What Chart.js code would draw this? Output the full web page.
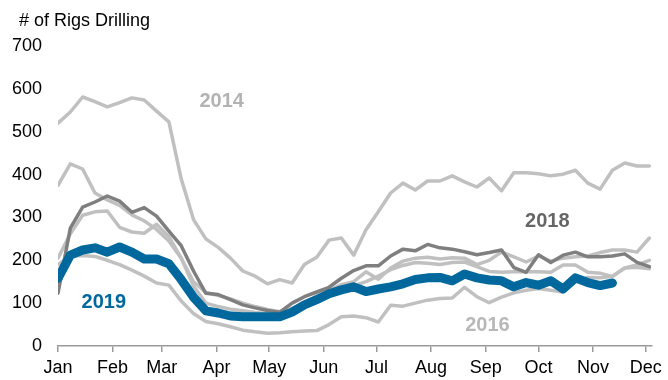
<!DOCTYPE html>
<html>
<head>
<meta charset="utf-8">
<title>Rigs Drilling</title>
<script src="https://cdn.jsdelivr.net/npm/chart.js@4.4.1/dist/chart.umd.min.js"></script>
<style>
    html, body { margin: 0; padding: 0; background: #fff; }
    #wrap { width: 668px; height: 380px; }
</style>
</head>
<body>
<div id="wrap"><canvas id="rigChart" width="668" height="380"></canvas></div>
<script>
var monthNames = ["Jan", "Feb", "Mar", "Apr", "May", "Jun", "Jul", "Aug", "Sep", "Oct", "Nov", "Dec"];
var monthStartDays = [0, 31, 59, 90, 120, 151, 181, 212, 243, 273, 304, 334];
var yTickValues = [0, 100, 200, 300, 400, 500, 600, 700];

// weekly rig counts, one value per week from the first week of January
var rigs2014 = [520, 546, 581, 570, 558, 568, 579, 574, 548, 523,
                390, 295, 250, 230, 205, 175, 163, 145, 155, 147,
                190, 207, 247, 252, 212, 271, 313, 357, 380, 364,
                385, 385, 397, 383, 371, 392, 362, 404, 404, 402,
                397, 401, 410, 380, 366, 410, 427, 420, 420];
var rigs2015 = [375, 425, 413, 357, 341, 328, 306, 292, 272, 245,
                205, 150, 125, 118, 110, 100, 92, 85, 80, 88,
                100, 117, 130, 143, 150, 173, 156, 182, 198, 205,
                207, 203, 206, 205, 190, 200, 219, 208, 196, 210,
                198, 205, 208, 210, 218, 224, 224, 219, 252];
var rigs2016 = [190, 210, 211, 209, 200, 190, 177, 163, 147, 142,
                105, 76, 57, 52, 45, 37, 33, 30, 31, 33,
                35, 36, 50, 68, 70, 66, 56, 95, 93, 100,
                107, 111, 112, 137, 115, 101, 114, 124, 130, 134,
                130, 126, 150, 160, 159, 163, 182, 189, 200];
var rigs2017 = [205, 262, 305, 313, 315, 277, 266, 263, 284, 255,
                205, 140, 100, 92, 86, 82, 78, 76, 75, 82,
                95, 108, 122, 133, 140, 150, 163, 178, 188, 195,
                193, 190, 195, 196, 185, 174, 172, 173, 173, 173,
                172, 189, 189, 172, 170, 162, 182, 184, 180];
var rigs2018 = [123, 275, 324, 336, 350, 338, 312, 323, 303, 268,
                234, 175, 123, 120, 108, 96, 89, 83, 79, 100,
                115, 126, 137, 158, 176, 187, 187, 210, 226, 222,
                237, 229, 226, 220, 213, 218, 224, 183, 172, 213,
                195, 212, 219, 208, 208, 210, 215, 195, 185];
var rigs2019 = [158, 212, 224, 229, 219, 231, 219, 203, 203, 192,
                155, 114, 82, 77, 70, 68, 68, 68, 68, 79,
                96, 108, 122, 131, 138, 127, 133, 138, 145, 155,
                159, 160, 152, 168, 159, 154, 152, 138, 148, 142,
                152, 133, 159, 148, 141, 147];

var lightGrey = "#c0c0c0";
var darkGrey = "#7f7f7f";
var blue = "#00689c";
var fontFamily = "'Liberation Sans', Arial, Helvetica, sans-serif";

// year names written next to their lines (day of year, rig count)
var yearLabels = [
    { text: "2014", day: 93, value: 570, color: "#b3b3b3" },
    { text: "2018", day: 278, value: 291, color: "#666666" },
    { text: "2016", day: 244, value: 47, color: "#b8b8b8" },
    { text: "2019", day: 26, value: 101, color: blue }
];

function toPoints(values) {
    return values.map(function (v, i) {
        return { x: i * 7, y: v };
    });
}

function lineSet(label, values, color, width) {
    return {
        label: label,
        data: toPoints(values),
        borderColor: color,
        backgroundColor: color,
        borderWidth: width,
        pointRadius: 0,
        tension: 0,
        fill: false,
        borderJoinStyle: "round",
        borderCapStyle: "round"
    };
}

var labelPlugin = {
    id: "rigLabels",
    afterDatasetsDraw: function (chart) {
        var ctx = chart.ctx;
        var xs = chart.scales.x;
        var ys = chart.scales.y;
        ctx.save();
        ctx.fillStyle = "#000";
        ctx.font = "18px " + fontFamily;
        ctx.textAlign = "left";
        ctx.textBaseline = "alphabetic";
        ctx.fillText("# of Rigs Drilling", 19, 26);

        ctx.font = "bold 20px " + fontFamily;
        ctx.textAlign = "center";
        ctx.textBaseline = "middle";
        yearLabels.forEach(function (l) {
            ctx.fillStyle = l.color;
            ctx.fillText(l.text, xs.getPixelForValue(l.day), ys.getPixelForValue(l.value));
        });
        ctx.restore();
    }
};

// first dataset is drawn on top
var chart = new Chart("rigChart", {
    type: "line",
    data: {
        datasets: [
            lineSet("2019", rigs2019, blue, 9),
            lineSet("2018", rigs2018, darkGrey, 3.5),
            lineSet("2017", rigs2017, lightGrey, 3.5),
            lineSet("2016", rigs2016, lightGrey, 3.5),
            lineSet("2015", rigs2015, lightGrey, 3.5),
            lineSet("2014", rigs2014, lightGrey, 3.5)
        ]
    },
    options: {
        responsive: false,
        animation: false,
        events: [],
        layout: { padding: { top: 46, right: 16, bottom: 0, left: 0 } },
        plugins: {
            legend: { display: false },
            tooltip: { enabled: false },
            title: { display: false }
        },
        scales: {
            x: {
                type: "linear",
                min: 0,
                max: 337.5,
                afterBuildTicks: function (axis) {
                    axis.ticks = monthStartDays.map(function (d) { return { value: d }; });
                },
                afterFit: function (axis) { axis.height = 34; },
                grid: {
                    drawOnChartArea: false,
                    drawTicks: true,
                    tickLength: 6,
                    color: "#9a9a9a",
                    lineWidth: 1.5
                },
                border: { display: true, color: "#9a9a9a", width: 1.5 },
                ticks: {
                    autoSkip: false,
                    maxRotation: 0,
                    padding: 5,
                    color: "#000",
                    font: { family: fontFamily, size: 18 },
                    callback: function (value, index) { return monthNames[index]; }
                }
            },
            y: {
                min: 0,
                max: 700,
                afterBuildTicks: function (axis) {
                    axis.ticks = yTickValues.map(function (v) { return { value: v }; });
                },
                afterFit: function (axis) { axis.width = 58; },
                grid: { display: false, drawTicks: false },
                border: { display: false },
                ticks: {
                    padding: 16,
                    color: "#000",
                    font: { family: fontFamily, size: 18 }
                }
            }
        }
    },
    plugins: [labelPlugin]
});
</script>
</body>
</html>
